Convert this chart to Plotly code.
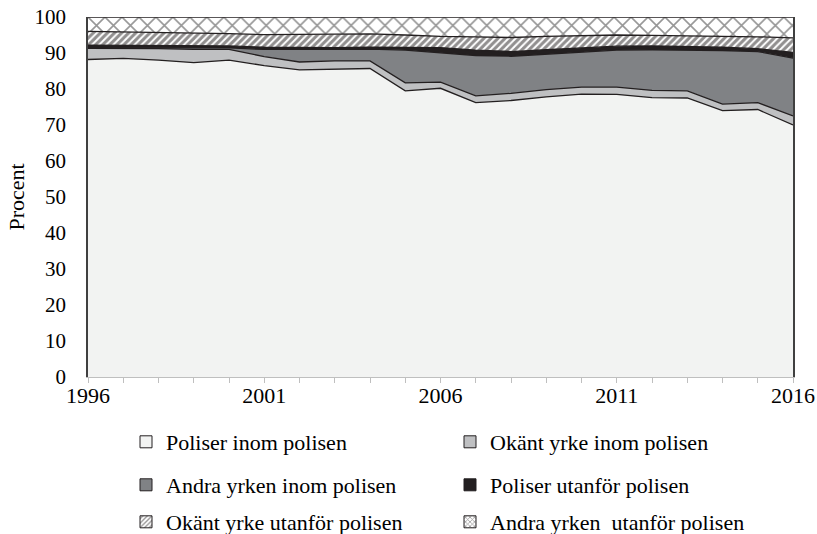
import plotly.graph_objects as go

years = list(range(1996, 2017))

poliser_inom = [88.2, 88.5, 88.0, 87.3, 88.0, 86.5, 85.3, 85.6, 85.7, 79.5, 80.2,
                76.2, 76.8, 77.8, 78.6, 78.5, 77.6, 77.5, 74.0, 74.3, 70.0]
okant_inom = [3.1, 2.8, 3.2, 3.7, 3.0, 2.5, 2.2, 2.2, 2.1, 2.2, 1.7,
              1.9, 2.0, 2.0, 1.9, 2.0, 2.0, 2.0, 1.8, 1.9, 2.5]
andra_inom = [0.2, 0.2, 0.2, 0.3, 0.4, 2.0, 3.5, 3.2, 3.3, 9.1, 8.1,
              11.2, 10.3, 9.8, 9.7, 10.3, 11.3, 11.4, 14.9, 14.2, 16.1]
poliser_utanfor = [0.7, 0.6, 0.6, 0.6, 0.6, 0.6, 0.5, 0.5, 0.5, 0.7, 1.5,
                   1.5, 1.3, 1.3, 1.2, 1.1, 1.1, 1.0, 0.9, 0.8, 1.6]
okant_utanfor = [3.8, 3.8, 3.7, 3.6, 3.4, 3.5, 3.7, 3.7, 3.7, 3.5, 3.1,
                 3.7, 3.9, 3.7, 3.5, 3.1, 2.9, 2.9, 3.0, 3.3, 4.0]
andra_utanfor = [4.0, 4.1, 4.3, 4.5, 4.6, 4.9, 4.8, 4.8, 4.7, 5.0, 5.4,
                 5.5, 5.7, 5.4, 5.1, 5.0, 5.1, 5.2, 5.4, 5.5, 5.8]

names = ["Poliser inom polisen", "Okänt yrke inom polisen", "Andra yrken inom polisen",
         "Poliser utanför polisen", "Okänt yrke utanför polisen", "Andra yrken  utanför polisen"]
series = [poliser_inom, okant_inom, andra_inom, poliser_utanfor, okant_utanfor, andra_utanfor]

x_ticks = [1996, 2001, 2006, 2011, 2016]
y_ticks = list(range(0, 101, 10))

DARK = "#231f20"
fills = ["#f2f3f2", "#bfc0c2", "#808285", DARK, "white", "white"]
patterns = [None, None, None, None,
            dict(shape="/", fgcolor=DARK, bgcolor="white", size=5, solidity=0.6),
            dict(shape="x", fgcolor="#2f2f2f", bgcolor="white", size=12, solidity=0.25)]
legends = ["legend", "legend", "legend2", "legend2", "legend3", "legend3"]

FONT = "Liberation Serif"

fig = go.Figure()
for name, vals, fc, pat in zip(names, series, fills, patterns):
    kw = dict(x=years, y=vals, name=name, mode="lines", stackgroup="one",
              line=dict(color=DARK, width=1.3), fillcolor=fc,
              showlegend=False, hoverinfo="x+y+name")
    if pat:
        kw["fillpattern"] = pat
    fig.add_trace(go.Scatter(**kw))

# legend entries (square swatches)
for name, fc, pat, lg in zip(names, fills, patterns, legends):
    marker = dict(color=fc, line=dict(color=DARK, width=1))
    if pat:
        marker["pattern"] = dict(shape=pat["shape"], fgcolor=DARK, bgcolor="white",
                                 size=4, solidity=0.4)
    fig.add_trace(go.Bar(x=[None], y=[None], name=name, marker=marker,
                         legend=lg, showlegend=True))

leg_common = dict(orientation="h", xref="container", yref="container",
                  xanchor="left", yanchor="middle", traceorder="normal",
                  font=dict(family=FONT, size=22, color="black"),
                  entrywidthmode="pixels", entrywidth=279,
                  bgcolor="rgba(0,0,0,0)", itemclick=False, itemdoubleclick=False)

LX = 126 / 817

fig.update_layout(
    width=817, height=534,
    margin=dict(l=88, r=24, t=17, b=157, autoexpand=False),
    paper_bgcolor="white", plot_bgcolor="white",
    font=dict(family=FONT, size=20, color="black"),
    xaxis=dict(type="linear", range=[1996, 2016], tickvals=x_ticks, automargin=False,
               showgrid=False, zeroline=False, showline=True, linecolor="#bfbfbf",
               linewidth=1, ticks="outside", ticklen=5, tickcolor="#bfbfbf",
               ticklabelstandoff=-6,
               minor=dict(dtick=1, ticks="outside", ticklen=5, tickcolor="#bfbfbf"),
               tickfont=dict(family=FONT, size=22)),
    yaxis=dict(range=[0, 100], tickvals=y_ticks, showgrid=False, zeroline=False,
               automargin=False,
               showline=True, linecolor="#404040", linewidth=1.5, mirror=True,
               ticks="", ticklabelstandoff=16,
               tickfont=dict(family=FONT, size=21),
               title=dict(text="Procent", font=dict(family=FONT, size=22), standoff=4)),
    legend=dict(x=LX, y=1 - 442 / 534, **leg_common),
    legend2=dict(x=LX, y=1 - 485 / 534, **leg_common),
    legend3=dict(x=LX, y=1 - 522 / 534, **leg_common),
    showlegend=True,
)

fig.write_html("out.html", config={"displayModeBar": False},
               post_script="document.body.style.margin='0';document.body.style.padding='0';")
